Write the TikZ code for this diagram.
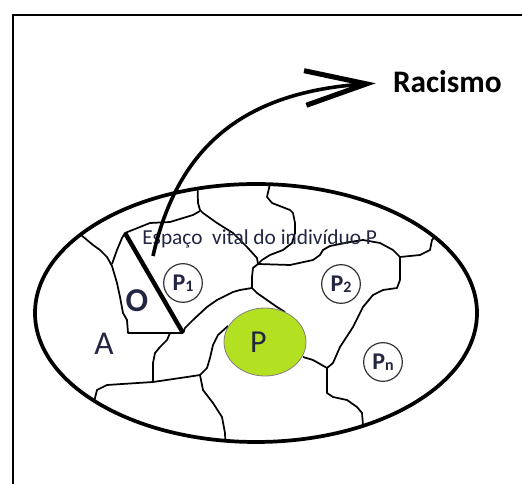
\documentclass[tikz,border=0pt]{standalone}
\usepackage{fontspec}
\setmainfont{Carlito}
\usetikzlibrary{arrows.meta,shapes.geometric}
\definecolor{inkblue}{RGB}{34,38,66}
\definecolor{limegreen}{RGB}{180,224,34}
\begin{document}
\begin{tikzpicture}[x=0.75pt,y=-0.75pt,
  region/.style={line width=1.3pt, line join=round},
  person/.style={circle, draw=black!80, fill=white, line width=0.9pt, minimum size=29pt, inner sep=0pt,
    text=inkblue, font=\fontsize{18}{18}\selectfont\bfseries},
  lbl/.style={text=inkblue, inner sep=0pt}]
\useasboundingbox (0,0) rectangle (522,484);
\draw[line width=2.2pt] (13,490) -- (13,15) -- (530,15);
\coordinate (otop) at (125,233);
\coordinate (obot) at (183,333);
\begin{scope}
\clip (256,313) ellipse [x radius=221, y radius=129];
\draw[region] (197,170) -- (198,203) -- (200,210) -- (203,213) -- (217,223) -- (233,233) -- (247,247) -- (257,258) -- (258,264);
\draw[region] (200,211) -- (193,215) -- (170,222) -- (150,223) -- (140,227) -- (otop) -- (122,238) -- (117,250) -- (112,264);
\draw[region] (75,230) -- (93,245) -- (100,250) -- (107,257) -- (112,266) -- (117,283) -- (120,297) -- (123,313) -- (127,320) -- (128,333) -- (obot);
\draw[region] (272,175) -- (267,197) -- (272,203) -- (290,210) -- (293,213) -- (295,223) -- (295,233) -- (292,243) -- (283,250) -- (270,255) -- (262,260) -- (258,264);
\draw[region] (258,264) -- (290,265) -- (313,260) -- (320,255) -- (323,250) -- (330,246) -- (350,242) -- (363,240) -- (380,243) -- (393,250) -- (400,257);
\draw[region] (445,225) -- (432,240) -- (430,250) -- (420,255) -- (400,257);
\draw[region] (400,257) -- (400,280) -- (397,288) -- (383,290) -- (373,295) -- (363,307) -- (353,327) -- (340,347) -- (333,363) -- (327,368);
\draw[region] (327,368) -- (327,393) -- (333,397) -- (347,400) -- (357,407) -- (362,413) -- (363,425) -- (364,460);
\draw[region] (303,357) -- (313,360) -- (327,368);
\draw[region] (258,264) -- (253,268) -- (252,277) -- (252,288);
\draw[region] (252,288) -- (257,293) -- (267,300) -- (277,307) -- (285,312);
\draw[region] (252,288) -- (240,290) -- (233,292) -- (217,300) -- (207,307) -- (193,320) -- (185,328) -- (obot);
\draw[region] (170,333) -- (167,340) -- (160,347) -- (155,353) -- (153,363) -- (153,382);
\draw[region] (153,382) -- (107,385) -- (97,390) -- (95,398) -- (90,420);
\draw[region] (153,382) -- (187,377) -- (200,375);
\draw[region] (200,375) -- (207,368) -- (210,358) -- (213,345) -- (218,335) -- (228,326);
\draw[region] (200,375) -- (203,390) -- (213,403) -- (222,417) -- (225,433) -- (226,460);
\end{scope}
\draw[line width=2.8pt] (256,313) ellipse [x radius=221, y radius=129];
\node[ellipse, fill=limegreen, draw=gray, line width=0.6pt, minimum width=61.5pt, minimum height=51pt, inner sep=0pt,
  text=inkblue, font=\fontsize{24}{24}\selectfont] (P) at (265,342) {P\kern10pt};
\node[person] (p1) at (183,283) {P\raisebox{-0.5pt}{\fontsize{12}{12}\selectfont 1}};
\node[person] (p2) at (341,284) {P\raisebox{-0.5pt}{\fontsize{12}{12}\selectfont 2}};
\node[person] (pn) at (383,362) {P\raisebox{-0.5pt}{\fontsize{12}{12}\selectfont n}};
\draw[line width=3.3pt] (otop) -- (obot);
\node[lbl, font=\fontsize{25}{25}\selectfont\bfseries] (O) at (137,301) {O};
\node[lbl, font=\fontsize{25}{25}\selectfont] (A) at (104,344) {A};
\node[lbl, anchor=base west, font=\fontsize{16}{16}\selectfont] (espaco) at (142,245) {Espaço\ \ vital do indivíduo P};
\node[anchor=base west, inner sep=0pt, outer sep=0pt, font=\fontsize{23.5}{23.5}\selectfont\bfseries] (racismo) at (393,93) {Racismo};
\coordinate (vital) at (153,256);
\draw[line width=2.7pt, shorten >=13pt, -{Straight Barb[length=46pt,width=26pt,line width=3.8pt]}]
  (vital) .. controls (178,145) and (245,92) .. (racismo.west);
\end{tikzpicture}
\end{document}
